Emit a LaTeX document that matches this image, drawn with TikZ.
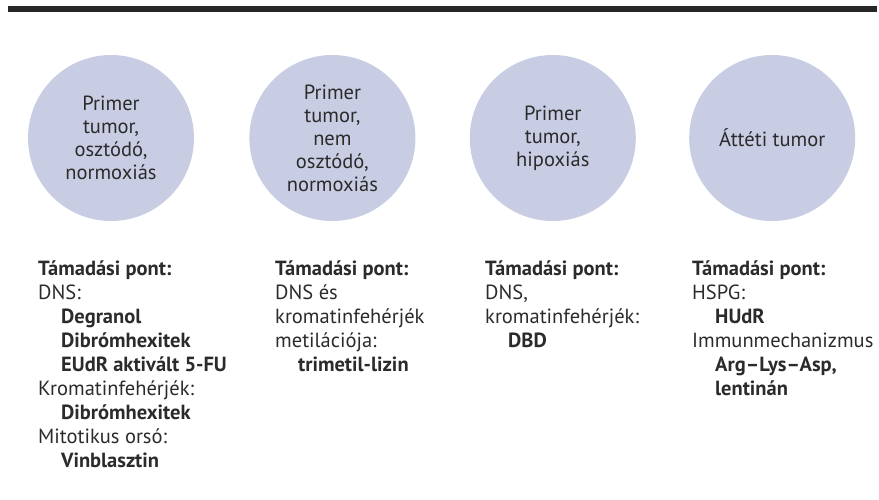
\documentclass[tikz,border=0pt]{standalone}
\usepackage{fontspec}
\setmainfont{PT Sans}
\usetikzlibrary{positioning}

\definecolor{tumorfill}{HTML}{C9CDE3}
\definecolor{inktext}{HTML}{2B2B2B}
\definecolor{topbar}{HTML}{262626}

\tikzset{
  tumor/.style={circle, fill=tumorfill, minimum size=166pt, inner sep=0pt,
    align=center, text=inktext, font=\fontsize{20.5}{23}\selectfont},
  target/.style={anchor=north west, align=left, inner sep=0pt, text=inktext,
    font=\fontsize{20.5}{24}\selectfont}
}
\newcommand{\drug}[1]{\hspace*{23pt}\textbf{#1}}

\begin{document}
\begin{tikzpicture}[x=1pt, y=-1pt, node distance=55pt]
  \useasboundingbox (0,0) rectangle (879,499);
  \fill[topbar] (8,6) rectangle (877,12);

  % tumour types
  \node[tumor] (c1) at (111,138) {Primer\\tumor,\\osztódó,\\normoxiás};
  \node[tumor] (c2) [right=of c1] {Primer\\tumor,\\nem\\osztódó,\\normoxiás};
  \node[tumor] (c3) [right=54pt of c2] {Primer\\tumor,\\hipoxiás};
  \node[tumor] (c4) [right=53pt of c3] {Áttéti tumor};

  % attack points
  \node[target] (t1) at (38,261) {\textbf{Támadási pont:}\\DNS:\\\drug{Degranol}\\\drug{Dibrómhexitek}\\\drug{EUdR aktivált 5-FU}\\Kromatinfehérjék:\\\drug{Dibrómhexitek}\\Mitotikus orsó:\\\drug{Vinblasztin}};
  \node[target] (t2) at (275,261) {\textbf{Támadási pont:}\\DNS és\\kromatinfehérjék\\metilációja:\\\drug{trimetil-lizin}};
  \node[target] (t3) at (485,261) {\textbf{Támadási pont:}\\DNS,\\kromatinfehérjék:\\\drug{DBD}};
  \node[target] (t4) at (692,261) {\textbf{Támadási pont:}\\HSPG:\\\drug{HUdR}\\Immunmechanizmus\\\drug{Arg–Lys–Asp,}\\\drug{lentinán}};
\end{tikzpicture}
\end{document}
